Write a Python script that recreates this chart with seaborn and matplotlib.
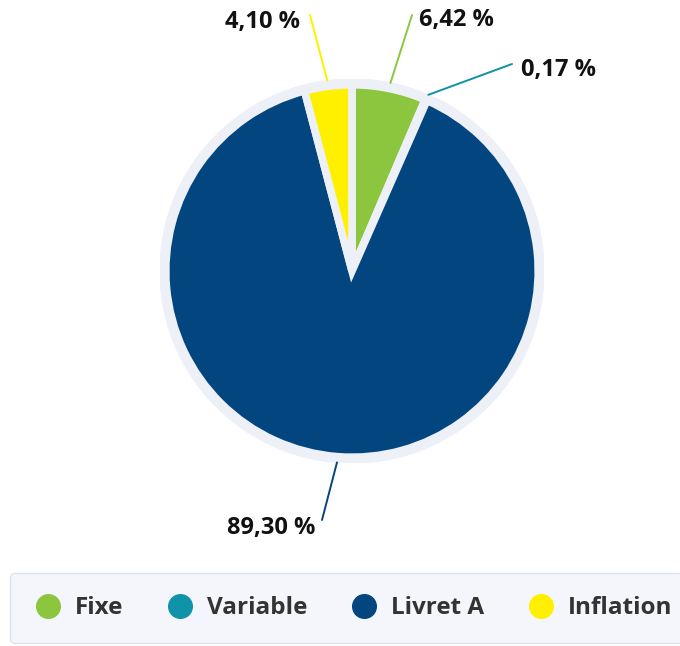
import matplotlib
matplotlib.use("Agg")
import matplotlib.pyplot as plt
import numpy as np
import seaborn as sns
from matplotlib.lines import Line2D
from matplotlib.patches import Circle

categories = ["Fixe", "Variable", "Livret A", "Inflation"]
shares = [6.42, 0.17, 89.30, 4.10]
share_labels = ["6,42 %", "0,17 %", "89,30 %", "4,10 %"]
colors = ["#8cc63f", "#0e93a8", "#03467f", "#fff000"]

sns.set_theme(style="white")
plt.rcParams["font.family"] = ["Open Sans", "DejaVu Sans"]

W, H = 680, 646
fig = plt.figure(figsize=(W / 100, H / 100), dpi=100)
cx, cy, R = 352, 271, 192
ax = fig.add_axes([(cx - R) / W, (H - cy - R) / H, 2 * R / W, 2 * R / H])

ring = "#edf0f6"
ax.add_patch(Circle((0, 0), 1.0, color=ring, zorder=0))
wedges, _ = ax.pie(shares, colors=colors, startangle=90, counterclock=False,
                   radius=0.97, wedgeprops=dict(edgecolor=ring, linewidth=5.5))
ax.set_xlim(-1, 1)
ax.set_ylim(-1, 1)
ax.set_aspect("equal")
ax.axis("off")

# connector ends and label anchors in figure pixels
line_end = [(412, 15), (512, 64), (322, 520), (310, 15)]
text_pos = [(419, 20), (521, 70), (315, 528), (300, 22)]
text_ha = ["left", "left", "right", "right"]


def to_data(p):
    return ((p[0] - cx) / R, (cy - p[1]) / R)


for w, lab, col, le, tp, ha in zip(wedges, share_labels, colors, line_end, text_pos, text_ha):
    mid = np.deg2rad((w.theta1 + w.theta2) / 2)
    start = (np.cos(mid), np.sin(mid))
    end = to_data(le)
    ax.plot([start[0], end[0]], [start[1], end[1]], color=col, lw=1.4,
            clip_on=False, zorder=3)
    tx, ty = to_data(tp)
    ax.text(tx, ty, lab, ha=ha, va="center", fontsize=17,
            fontweight="bold", color="#111111", clip_on=False)

handles = [Line2D([0], [0], marker="o", linestyle="", markersize=17,
                  markerfacecolor=c, markeredgecolor=c) for c in colors]
leg = fig.legend(handles, categories, loc="upper left", ncol=4,
                 bbox_to_anchor=(10 / W, 1 - 573 / H), borderaxespad=0,
                 frameon=True, fancybox=True,
                 facecolor="#f4f6fc", edgecolor="#dde2ee", fontsize=17.5,
                 borderpad=0.95, handletextpad=0.5, columnspacing=1.75,
                 handlelength=1.2, framealpha=1)
for t in leg.get_texts():
    t.set_color("#333333")
    t.set_fontweight("bold")

fig.savefig("out.png", dpi=100)
